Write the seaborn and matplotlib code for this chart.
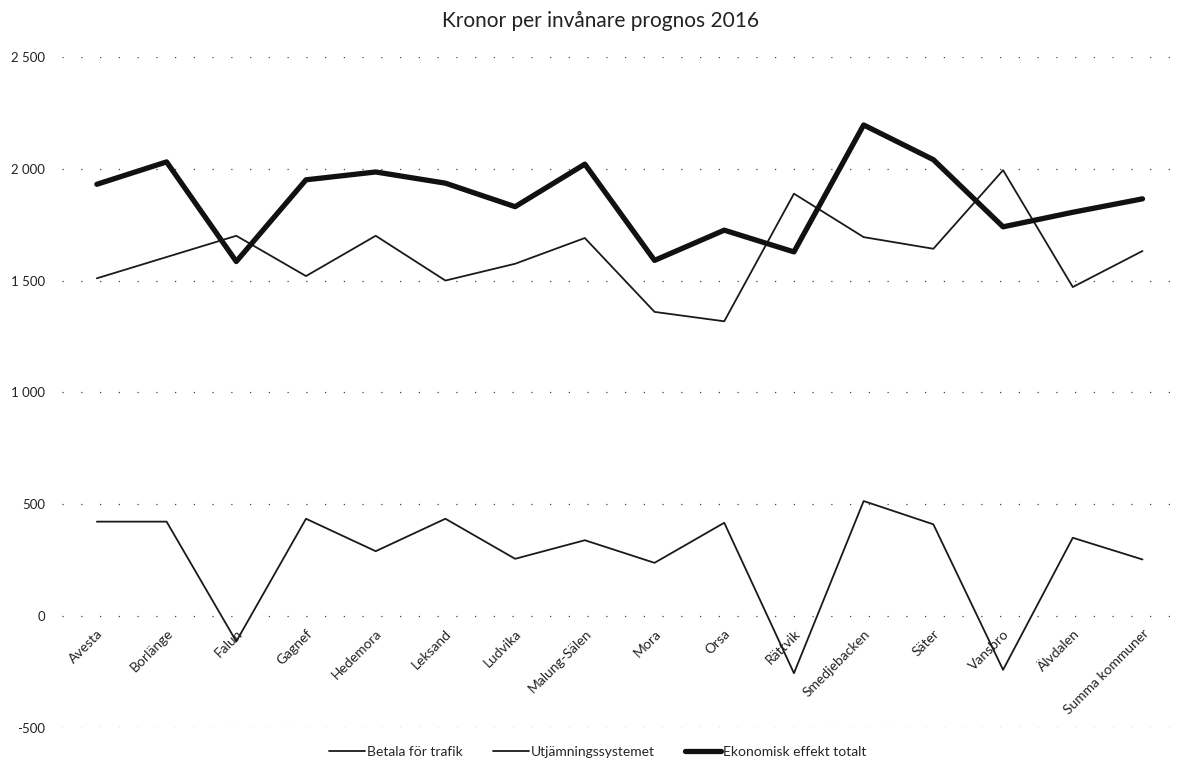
import pandas as pd
import matplotlib
matplotlib.use('Agg')
import matplotlib.pyplot as plt
import matplotlib.ticker as mticker
import seaborn as sns

# Data
kommuner = ['Avesta', 'Borlänge', 'Falun', 'Gagnef', 'Hedemora', 'Leksand', 'Ludvika',
            'Malung-Sälen', 'Mora', 'Orsa', 'Rättvik', 'Smedjebacken', 'Säter', 'Vansbro',
            'Älvdalen', 'Summa kommuner']
betala_for_trafik = [1510, 1605, 1700, 1520, 1700, 1500, 1575, 1690, 1360, 1318,
                     1888, 1694, 1642, 1993, 1471, 1632]
utjamning = [423, 423, -112, 436, 291, 436, 257, 340, 239, 418,
             -254, 515, 411, -239, 351, 254]
effekt_totalt = [1930, 2030, 1585, 1950, 1985, 1935, 1830, 2020, 1590, 1725,
                 1628, 2195, 2040, 1740, 1805, 1865]

series_names = ['Betala för trafik', 'Utjämningssystemet', 'Ekonomisk effekt totalt']
y_ticks = [-500, 0, 500, 1000, 1500, 2000, 2500]

sns.set_style('white')
plt.rcParams['font.family'] = ['Lato', 'DejaVu Sans']

fig = plt.figure(figsize=(11.79, 7.83), dpi=100)
ax = fig.add_axes([0.0526, 0.0699, 0.946, 0.8577])

df = pd.DataFrame({'Kommun': kommuner, series_names[0]: betala_for_trafik,
                   series_names[1]: utjamning, series_names[2]: effekt_totalt})

sns.lineplot(data=df, x='Kommun', y=series_names[0], sort=False, ax=ax,
             color='#1a1a1a', linewidth=1.3, label=series_names[0])
sns.lineplot(data=df, x='Kommun', y=series_names[1], sort=False, ax=ax,
             color='#1a1a1a', linewidth=1.3, label=series_names[1])
sns.lineplot(data=df, x='Kommun', y=series_names[2], sort=False, ax=ax,
             color='#111111', linewidth=3.8, label=series_names[2])

ax.set_xlim(-0.5, len(kommuner) - 0.5)
ax.set_ylim(-500, 2500)
ax.set_yticks(y_ticks)
ax.yaxis.set_major_formatter(mticker.FuncFormatter(lambda v, p: f'{int(v):,}'.replace(',', ' ')))
ax.set_xlabel('')
ax.set_ylabel('')

# horizontal axis crosses at zero, like the original
for s in ['top', 'right', 'left']:
    ax.spines[s].set_visible(False)
ax.spines['bottom'].set_position(('data', 0))
ax.spines['bottom'].set_color('none')
ax.tick_params(axis='both', length=0)
ax.tick_params(axis='y', pad=12, labelsize=9.5, labelcolor='#222222')
ax.tick_params(axis='x', pad=8, labelsize=10, labelcolor='#222222')
for lab in ax.get_xticklabels():
    lab.set_rotation(45)
    lab.set_ha('right')
    lab.set_va('top')
    lab.set_rotation_mode('anchor')

ax.yaxis.grid(True, linestyle=(0, (1, 14)), color='#444444', linewidth=0.9)
ax.xaxis.grid(False)

fig.text(0.509, 0.973, 'Kronor per invånare prognos 2016', ha='center', va='center',
         fontsize=15, color='#222222')

ax.legend(loc='center', bbox_to_anchor=(0.507, 0.04), bbox_transform=fig.transFigure,
          ncol=3, frameon=False, fontsize=10, handlelength=2.6, handletextpad=0.1,
          columnspacing=2.2)

fig.savefig('out.png', dpi=100)
